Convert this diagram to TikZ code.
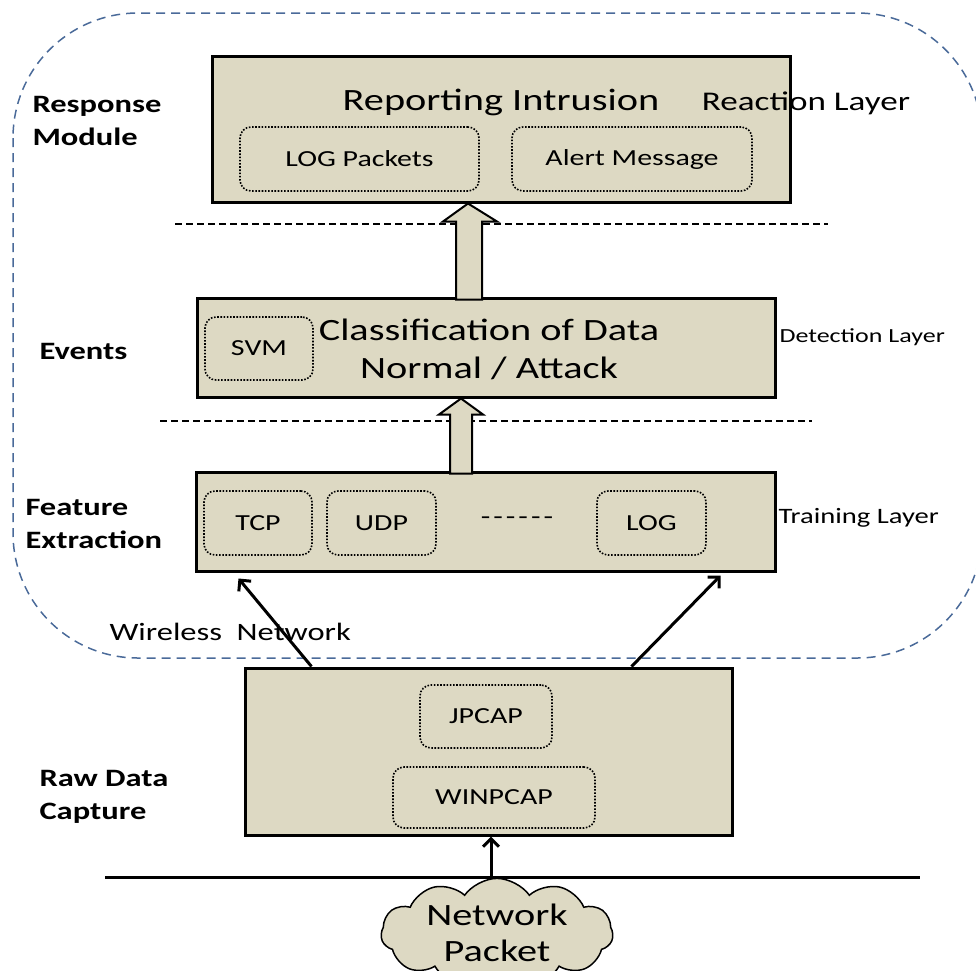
\documentclass[tikz,border=0pt]{standalone}
\usepackage{fontspec}
\setmainfont[FakeStretch=1.3]{Carlito}
\usetikzlibrary{arrows.meta,shapes.symbols,calc}
\definecolor{boxfill}{HTML}{DDD9C3}
\definecolor{bluedash}{HTML}{4A6A99}
\newcommand{\fsz}[1]{\fontsize{#1}{#1}\selectfont}
\begin{document}
\begin{tikzpicture}[x=1pt,y=-1pt,
  bigbox/.style={draw=black,line width=3pt,fill=boxfill,rectangle,inner sep=0pt},
  dotbox/.style={draw=black,line width=1.6pt,dash pattern=on 1.6pt off 1.6pt,rounded corners=11pt,inner sep=0pt,font=\fsz{23}},
  sidelabel/.style={anchor=west,align=left,font=\bfseries\fontsize{25}{33}\selectfont},
  layerlabel/.style={anchor=west},
  sepline/.style={line width=1.1pt,dash pattern=on 7pt off 4pt},
  blockarrow/.style={draw=black,line width=2pt,fill=boxfill,line join=miter},
  thinarrow/.style={line width=3pt,-{Straight Barb[length=8pt,width=16pt,line width=3pt]}}
]
\useasboundingbox (0,0) rectangle (976,970);

% outer dashed region
\draw[bluedash,line width=1.5pt,dash pattern=on 9pt off 6pt,rounded corners=125pt] (13,13) rectangle (982,658);

% separator lines
\draw[sepline] (175,224) -- (828,224);
\draw[sepline] (160,421) -- (812,421);

% main boxes
\node[bigbox,minimum width=578,minimum height=146] (b1) at (501,129) {};
\node[bigbox,minimum width=578,minimum height=99] (b2) at (486,347.5) {};
\node[bigbox,minimum width=579,minimum height=99] (b3) at (485.5,521.5) {};
\node[bigbox,minimum width=487,minimum height=167] (b4) at (488.5,751.5) {};

% box 1 content
\node[font=\fsz{31}] (t1) at (501,102) {Reporting Intrusion};
\node[dotbox,minimum width=239,minimum height=64] (logp) at (359.5,159) {LOG Packets};
\node[dotbox,minimum width=240,minimum height=64] (alert) at (632,159) {Alert Message};
\node[font=\fsz{27}] (react) at (806,103) {Reaction Layer};

% box 2 content
\node[dotbox,minimum width=108,minimum height=63] (svm) at (259,348.5) {SVM};
\node[font=\fontsize{31}{38}\selectfont,align=center] (cls) at (489,349) {Classification of Data\\Normal / Attack};
\node[layerlabel,font=\fsz{20}] (det) at (776,337) {Detection Layer};

% box 3 content
\node[dotbox,minimum width=108,minimum height=64] (tcp) at (258,523) {TCP};
\node[dotbox,minimum width=109,minimum height=64] (udp) at (381.5,523) {UDP};
\node[font=\fsz{24}] (dots) at (517,521) {-\kern3pt-\kern3pt-\kern3pt-\kern3pt-\kern3pt-};
\node[dotbox,minimum width=109,minimum height=64] (log) at (651.5,523) {LOG};
\node[layerlabel,font=\fsz{22}] (train) at (775,518) {Training Layer};

% box 4 content
\node[dotbox,minimum width=132,minimum height=63] (jpcap) at (486,716.5) {JPCAP};
\node[dotbox,minimum width=202,minimum height=61] (winpcap) at (494,797.5) {WINPCAP};

% side labels
\node[sidelabel] (resp) at (29,121) {Response\\Module};
\node[sidelabel] (events) at (36,351) {Events};
\node[sidelabel] (feat) at (22,524) {Feature\\Extraction};
\node[sidelabel] (raw) at (36,797) {Raw Data\\Capture};
\node[anchor=west,font=\fsz{25}] (wless) at (106,632) {Wireless\ \ Network};

% block arrows
\coordinate (tipA) at ($(b1.south)+(-33,0)$);
\draw[blockarrow] (tipA) -- ++(29,18) -- ++(-15,0) -- ++(0,78) -- ++(-26,0) -- ++(0,-78) -- ++(-13,0) -- cycle;
\coordinate (tipB) at ($(b2.south)+(-25,0)$);
\draw[blockarrow] (tipB) -- ++(22,16) -- ++(-11,0) -- ++(0,59) -- ++(-22,0) -- ++(0,-59) -- ++(-11,0) -- cycle;

% wireless arrows
\draw[thinarrow] ($(b4.north west)+(68,0)$) -- ($(b3.south west)+(44,6)$);
\draw[thinarrow] ($(b4.north west)+(388,0)$) -- ($(b3.south east)+(-56,3)$);

% bus line and capture arrow
\coordinate (busL) at (105,877);
\coordinate (busR) at (920,877);
\coordinate (busTap) at (491,877);
\draw[line width=3pt] (busL) -- (busR);
\draw[thinarrow] (busTap) -- (busTap |- b4.south);

% cloud
\node[cloud,cloud puffs=11,cloud puff arc=110,aspect=2.4,draw=black,line width=1.5pt,fill=boxfill,
      minimum width=232,minimum height=92,inner sep=0pt,align=center,font=\fontsize{31}{36}\selectfont] (cloud) at (497,933) {Network\\Packet};
\end{tikzpicture}
\end{document}
